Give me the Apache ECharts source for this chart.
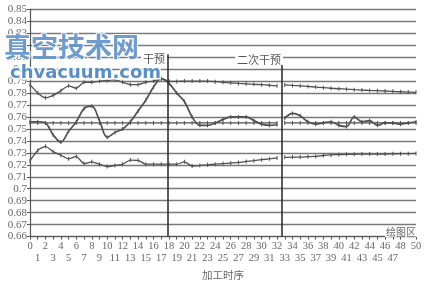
<!DOCTYPE html>
<html><head><meta charset="utf-8">
<script src="https://cdn.jsdelivr.net/npm/echarts@6/dist/echarts.min.js"></script>
<style>html,body{margin:0;padding:0;background:#fff}#c{width:435px;height:285px}</style>
</head><body><div id="c"></div>
<script>
// ---- data ----
var xs = [];
for (var k = 0; k <= 50; k++) xs.push(k);
var breakAfter = 32; // gap at second intervention
var topSeries = [0.787,0.780,0.776,0.778,0.782,0.786,0.784,0.789,0.789,0.790,
  0.7905,0.791,0.789,0.787,0.787,0.789,0.790,0.792,0.790,0.7897,
  0.790,0.790,0.790,0.790,0.7895,0.789,0.7885,0.788,0.7877,0.7873,
  0.787,0.7865,0.786,
  0.7868,0.7864,0.786,0.7855,0.785,0.7845,0.784,0.7836,0.7832,0.7828,
  0.7825,0.7822,0.782,0.7817,0.7814,0.7811,0.7808,0.7806];
var waveSeries = [0.756,0.756,0.755,0.745,0.739,0.748,0.756,0.767,0.769,0.757,
  0.743,0.747,0.750,0.756,0.765,0.774,0.785,0.792,0.788,0.780,
  0.773,0.760,0.753,0.753,0.755,0.758,0.760,0.760,0.760,0.757,
  0.754,0.753,0.7535,
  0.759,0.763,0.761,0.756,0.754,0.755,0.756,0.753,0.752,0.760,
  0.756,0.757,0.753,0.755,0.755,0.754,0.755,0.756];
var flatSeries = [];
for (var k2 = 0; k2 <= 50; k2++) flatSeries.push(0.755);
var bottomSeries = [0.7235,0.732,0.7355,0.731,0.728,0.725,0.727,0.721,0.7225,0.7205,
  0.7185,0.7195,0.7205,0.724,0.7238,0.7205,0.7205,0.7205,0.7205,0.7205,
  0.7225,0.719,0.7195,0.720,0.7205,0.721,0.7215,0.722,0.7228,0.7235,
  0.7243,0.725,0.7258,
  0.7263,0.7265,0.7265,0.7268,0.727,0.7278,0.7283,0.7286,0.7288,0.7288,
  0.729,0.729,0.729,0.729,0.7292,0.7293,0.7293,0.7295];
var interventions = [17.8, 32.6];
var interventionLabels = ['干预', '二次干预'];
var yMin = 0.66, yMax = 0.85, yStep = 0.01;
var xMin = 0, xMax = 50;

function build(vals) {
  var out = [];
  for (var i = 0; i < xs.length; i++) {
    out.push([xs[i], vals[i]]);
    if (xs[i] === breakAfter) out.push([breakAfter + 0.5, '-']);
  }
  return out;
}

var lineCol = '#505050';
function mk(vals, smooth, w) {
  return {
    type: 'line', data: build(vals), smooth: smooth, connectNulls: false,
    symbol: 'rect', symbolSize: [1, 4], showSymbol: true,
    lineStyle: { color: lineCol, width: w },
    itemStyle: { color: lineCol },
    emphasis: { disabled: true }, animation: false
  };
}

var chart = echarts.init(document.getElementById('c'), null, { renderer: 'canvas' });
var serif = '"Liberation Serif", "DejaVu Serif", serif';
var cjk = '"Noto Sans CJK SC", sans-serif';

var series = [
  mk(topSeries, 0.2, 1.3),
  mk(flatSeries, false, 1.3),
  mk(waveSeries, 0.35, 1.7),
  mk(bottomSeries, 0.2, 1.3)
];
series[0].markLine = {
  silent: true, symbol: 'none', animation: false,
  lineStyle: { color: '#333', width: 1.6, type: 'solid' },
  label: { show: false },
  data: interventions.map(function (x) { return [{ coord: [x, 0.8125] }, { coord: [x, yMin] }]; })
};

chart.setOption({
  animation: false,
  backgroundColor: '#fff',
  grid: { left: 30, right: 19, top: 9.3, bottom: 36.7 },
  xAxis: {
    type: 'value', min: xMin, max: xMax, interval: 1,
    axisLine: { show: true, lineStyle: { color: '#555', width: 1.2 } },
    axisTick: { show: true, length: 3, lineStyle: { color: '#555' } },
    splitLine: { show: false },
    axisLabel: {
      color: '#666', fontFamily: serif, fontSize: 10.5, margin: 4, lineHeight: 12,
      hideOverlap: false, showMinLabel: true, showMaxLabel: true,
      formatter: function (v) { return (v % 2 === 0) ? String(v) : '\n' + v; }
    },
    name: '加工时序', nameLocation: 'middle', nameGap: 25,
    nameTextStyle: { color: '#666', fontFamily: cjk, fontSize: 10.5 }
  },
  yAxis: {
    type: 'value', min: yMin, max: yMax, interval: yStep,
    axisLine: { show: true, lineStyle: { color: '#555', width: 1.2 } },
    axisTick: { show: true, length: 3, lineStyle: { color: '#555' } },
    splitLine: { show: true, lineStyle: { color: '#7a7a7a', width: 1.3 } },
    axisLabel: {
      color: '#666', fontFamily: serif, fontSize: 11, margin: 3,
      formatter: function (v) { return String(+v.toFixed(2)); }
    }
  },
  series: series,
  graphic: [
    { type: 'text', x: 141, y: 53, z: 50, style: { text: interventionLabels[0], font: '11px ' + cjk, fill: '#555', backgroundColor: '#fff', padding: [0, 2] } },
    { type: 'text', x: 235, y: 54, z: 50, style: { text: interventionLabels[1], font: '11px ' + cjk, fill: '#555', backgroundColor: '#fff', padding: [0, 2] } },
    { type: 'text', x: 385, y: 227, z: 50, style: { text: '绘图区', font: '10px ' + cjk, fill: '#666', backgroundColor: '#fff', padding: [0, 1] } },
    { type: 'text', x: 4, y: 33, z: 60, style: { text: '真空技术网', font: 'bold 27px ' + cjk, fill: '#6394c9', stroke: '#fff', lineWidth: 2, opacity: 0.92 } },
    { type: 'text', x: 10, y: 64, z: 60, style: { text: 'chvacuum.com', font: 'bold 18px "DejaVu Sans", sans-serif', fill: '#5089c2', stroke: '#fff', lineWidth: 3, opacity: 0.95 } }
  ]
});
</script></body></html>
